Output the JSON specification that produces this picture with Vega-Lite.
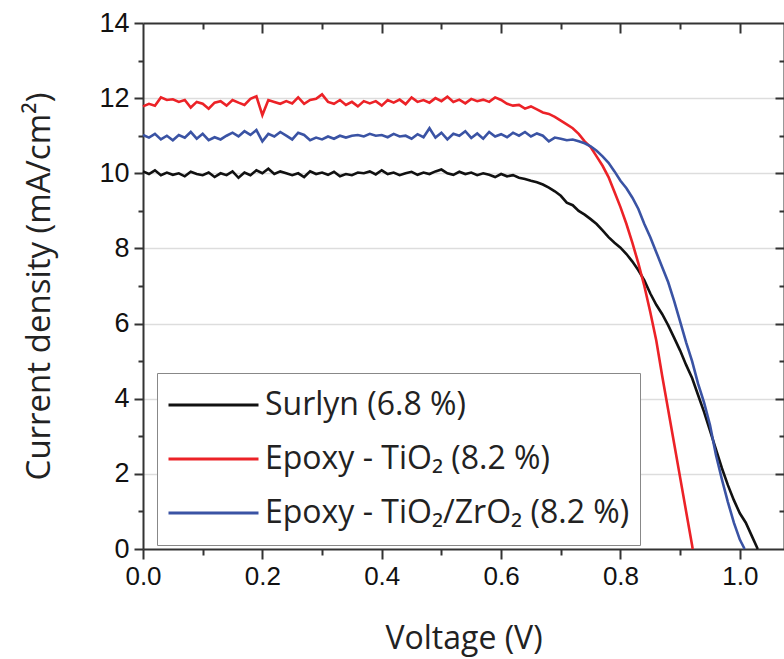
{
  "$schema": "https://vega.github.io/schema/vega-lite/v6.json",
  "autosize": {"type": "none"},
  "padding": {"left": 143, "top": 23, "right": 0, "bottom": 110},
  "width": 641,
  "height": 526,
  "background": "white",
  "config": {"view": {"stroke": null}},
  "datasets": {
    "iv": [
      {"v":0.00,"j":10.05,"s":"S"},{"v":0.01,"j":9.98,"s":"S"},{"v":0.02,"j":10.08,"s":"S"},{"v":0.03,"j":9.95,"s":"S"},{"v":0.04,"j":10.02,"s":"S"},{"v":0.05,"j":9.96,"s":"S"},{"v":0.06,"j":10.00,"s":"S"},{"v":0.07,"j":9.92,"s":"S"},{"v":0.08,"j":10.04,"s":"S"},{"v":0.09,"j":9.98,"s":"S"},
      {"v":0.10,"j":9.95,"s":"S"},{"v":0.11,"j":10.02,"s":"S"},{"v":0.12,"j":9.90,"s":"S"},{"v":0.13,"j":10.00,"s":"S"},{"v":0.14,"j":9.95,"s":"S"},{"v":0.15,"j":10.05,"s":"S"},{"v":0.16,"j":9.88,"s":"S"},{"v":0.17,"j":10.02,"s":"S"},{"v":0.18,"j":9.95,"s":"S"},{"v":0.19,"j":10.08,"s":"S"},
      {"v":0.20,"j":10.00,"s":"S"},{"v":0.21,"j":10.12,"s":"S"},{"v":0.22,"j":9.98,"s":"S"},{"v":0.23,"j":10.05,"s":"S"},{"v":0.24,"j":10.00,"s":"S"},{"v":0.25,"j":9.95,"s":"S"},{"v":0.26,"j":10.00,"s":"S"},{"v":0.27,"j":9.90,"s":"S"},{"v":0.28,"j":10.05,"s":"S"},{"v":0.29,"j":9.98,"s":"S"},
      {"v":0.30,"j":10.02,"s":"S"},{"v":0.31,"j":9.96,"s":"S"},{"v":0.32,"j":10.04,"s":"S"},{"v":0.33,"j":9.92,"s":"S"},{"v":0.34,"j":9.98,"s":"S"},{"v":0.35,"j":9.95,"s":"S"},{"v":0.36,"j":10.02,"s":"S"},{"v":0.37,"j":10.00,"s":"S"},{"v":0.38,"j":10.05,"s":"S"},{"v":0.39,"j":9.97,"s":"S"},
      {"v":0.40,"j":10.08,"s":"S"},{"v":0.41,"j":9.98,"s":"S"},{"v":0.42,"j":10.02,"s":"S"},{"v":0.43,"j":9.95,"s":"S"},{"v":0.44,"j":10.00,"s":"S"},{"v":0.45,"j":10.04,"s":"S"},{"v":0.46,"j":9.96,"s":"S"},{"v":0.47,"j":10.02,"s":"S"},{"v":0.48,"j":9.98,"s":"S"},{"v":0.49,"j":10.05,"s":"S"},
      {"v":0.50,"j":10.10,"s":"S"},{"v":0.51,"j":10.00,"s":"S"},{"v":0.52,"j":9.96,"s":"S"},{"v":0.53,"j":10.04,"s":"S"},{"v":0.54,"j":9.98,"s":"S"},{"v":0.55,"j":10.02,"s":"S"},{"v":0.56,"j":9.95,"s":"S"},{"v":0.57,"j":10.00,"s":"S"},{"v":0.58,"j":9.96,"s":"S"},{"v":0.59,"j":9.90,"s":"S"},
      {"v":0.60,"j":9.98,"s":"S"},{"v":0.61,"j":9.92,"s":"S"},{"v":0.62,"j":9.95,"s":"S"},{"v":0.63,"j":9.88,"s":"S"},{"v":0.64,"j":9.85,"s":"S"},{"v":0.65,"j":9.80,"s":"S"},{"v":0.66,"j":9.76,"s":"S"},{"v":0.67,"j":9.70,"s":"S"},{"v":0.68,"j":9.62,"s":"S"},{"v":0.69,"j":9.52,"s":"S"},
      {"v":0.70,"j":9.40,"s":"S"},{"v":0.71,"j":9.22,"s":"S"},{"v":0.72,"j":9.15,"s":"S"},{"v":0.73,"j":9.00,"s":"S"},{"v":0.74,"j":8.90,"s":"S"},{"v":0.75,"j":8.78,"s":"S"},{"v":0.76,"j":8.65,"s":"S"},{"v":0.77,"j":8.48,"s":"S"},{"v":0.78,"j":8.30,"s":"S"},{"v":0.79,"j":8.15,"s":"S"},
      {"v":0.80,"j":8.02,"s":"S"},{"v":0.81,"j":7.85,"s":"S"},{"v":0.82,"j":7.65,"s":"S"},{"v":0.83,"j":7.42,"s":"S"},{"v":0.84,"j":7.15,"s":"S"},{"v":0.85,"j":6.80,"s":"S"},{"v":0.86,"j":6.50,"s":"S"},{"v":0.87,"j":6.25,"s":"S"},{"v":0.88,"j":5.95,"s":"S"},{"v":0.89,"j":5.62,"s":"S"},
      {"v":0.90,"j":5.28,"s":"S"},{"v":0.91,"j":4.90,"s":"S"},{"v":0.92,"j":4.55,"s":"S"},{"v":0.93,"j":4.10,"s":"S"},{"v":0.94,"j":3.65,"s":"S"},{"v":0.95,"j":3.15,"s":"S"},{"v":0.96,"j":2.65,"s":"S"},{"v":0.97,"j":2.15,"s":"S"},{"v":0.98,"j":1.70,"s":"S"},{"v":0.99,"j":1.30,"s":"S"},
      {"v":1.00,"j":0.95,"s":"S"},{"v":1.01,"j":0.70,"s":"S"},{"v":1.02,"j":0.35,"s":"S"},{"v":1.03,"j":0.00,"s":"S"},

      {"v":0.00,"j":11.78,"s":"T"},{"v":0.01,"j":11.85,"s":"T"},{"v":0.02,"j":11.80,"s":"T"},{"v":0.03,"j":12.02,"s":"T"},{"v":0.04,"j":11.95,"s":"T"},{"v":0.05,"j":11.97,"s":"T"},{"v":0.06,"j":11.90,"s":"T"},{"v":0.07,"j":11.95,"s":"T"},{"v":0.08,"j":11.75,"s":"T"},{"v":0.09,"j":11.90,"s":"T"},
      {"v":0.10,"j":11.85,"s":"T"},{"v":0.11,"j":11.72,"s":"T"},{"v":0.12,"j":11.88,"s":"T"},{"v":0.13,"j":11.92,"s":"T"},{"v":0.14,"j":11.80,"s":"T"},{"v":0.15,"j":11.95,"s":"T"},{"v":0.16,"j":11.88,"s":"T"},{"v":0.17,"j":11.82,"s":"T"},{"v":0.18,"j":11.98,"s":"T"},{"v":0.19,"j":12.05,"s":"T"},
      {"v":0.20,"j":11.55,"s":"T"},{"v":0.21,"j":11.95,"s":"T"},{"v":0.22,"j":11.90,"s":"T"},{"v":0.23,"j":11.85,"s":"T"},{"v":0.24,"j":11.92,"s":"T"},{"v":0.25,"j":11.86,"s":"T"},{"v":0.26,"j":12.02,"s":"T"},{"v":0.27,"j":11.85,"s":"T"},{"v":0.28,"j":11.95,"s":"T"},{"v":0.29,"j":11.98,"s":"T"},
      {"v":0.30,"j":12.10,"s":"T"},{"v":0.31,"j":11.90,"s":"T"},{"v":0.32,"j":11.85,"s":"T"},{"v":0.33,"j":11.95,"s":"T"},{"v":0.34,"j":11.82,"s":"T"},{"v":0.35,"j":11.90,"s":"T"},{"v":0.36,"j":11.78,"s":"T"},{"v":0.37,"j":11.92,"s":"T"},{"v":0.38,"j":11.86,"s":"T"},{"v":0.39,"j":11.92,"s":"T"},
      {"v":0.40,"j":11.80,"s":"T"},{"v":0.41,"j":11.95,"s":"T"},{"v":0.42,"j":11.88,"s":"T"},{"v":0.43,"j":11.96,"s":"T"},{"v":0.44,"j":11.84,"s":"T"},{"v":0.45,"j":12.02,"s":"T"},{"v":0.46,"j":11.90,"s":"T"},{"v":0.47,"j":11.95,"s":"T"},{"v":0.48,"j":11.88,"s":"T"},{"v":0.49,"j":12.00,"s":"T"},
      {"v":0.50,"j":11.92,"s":"T"},{"v":0.51,"j":12.04,"s":"T"},{"v":0.52,"j":11.90,"s":"T"},{"v":0.53,"j":11.96,"s":"T"},{"v":0.54,"j":11.86,"s":"T"},{"v":0.55,"j":11.98,"s":"T"},{"v":0.56,"j":11.92,"s":"T"},{"v":0.57,"j":11.96,"s":"T"},{"v":0.58,"j":11.90,"s":"T"},{"v":0.59,"j":12.02,"s":"T"},
      {"v":0.60,"j":11.95,"s":"T"},{"v":0.61,"j":11.85,"s":"T"},{"v":0.62,"j":11.80,"s":"T"},{"v":0.63,"j":11.82,"s":"T"},{"v":0.64,"j":11.72,"s":"T"},{"v":0.65,"j":11.78,"s":"T"},{"v":0.66,"j":11.70,"s":"T"},{"v":0.67,"j":11.62,"s":"T"},{"v":0.68,"j":11.58,"s":"T"},{"v":0.69,"j":11.50,"s":"T"},
      {"v":0.70,"j":11.40,"s":"T"},{"v":0.71,"j":11.30,"s":"T"},{"v":0.72,"j":11.20,"s":"T"},{"v":0.73,"j":11.05,"s":"T"},{"v":0.74,"j":10.85,"s":"T"},{"v":0.75,"j":10.70,"s":"T"},{"v":0.76,"j":10.45,"s":"T"},{"v":0.77,"j":10.20,"s":"T"},{"v":0.78,"j":9.90,"s":"T"},{"v":0.79,"j":9.50,"s":"T"},
      {"v":0.80,"j":9.10,"s":"T"},{"v":0.81,"j":8.65,"s":"T"},{"v":0.82,"j":8.15,"s":"T"},{"v":0.83,"j":7.60,"s":"T"},{"v":0.84,"j":7.00,"s":"T"},{"v":0.85,"j":6.30,"s":"T"},{"v":0.86,"j":5.55,"s":"T"},{"v":0.87,"j":4.60,"s":"T"},{"v":0.88,"j":3.70,"s":"T"},{"v":0.89,"j":2.80,"s":"T"},
      {"v":0.90,"j":1.90,"s":"T"},{"v":0.91,"j":1.00,"s":"T"},{"v":0.92,"j":0.10,"s":"T"},{"v":0.921,"j":0.00,"s":"T"},

      {"v":0.00,"j":11.02,"s":"Z"},{"v":0.01,"j":10.95,"s":"Z"},{"v":0.02,"j":11.05,"s":"Z"},{"v":0.03,"j":10.90,"s":"Z"},{"v":0.04,"j":11.00,"s":"Z"},{"v":0.05,"j":10.88,"s":"Z"},{"v":0.06,"j":11.02,"s":"Z"},{"v":0.07,"j":10.95,"s":"Z"},{"v":0.08,"j":11.10,"s":"Z"},{"v":0.09,"j":10.92,"s":"Z"},
      {"v":0.10,"j":11.05,"s":"Z"},{"v":0.11,"j":10.88,"s":"Z"},{"v":0.12,"j":10.96,"s":"Z"},{"v":0.13,"j":10.90,"s":"Z"},{"v":0.14,"j":11.00,"s":"Z"},{"v":0.15,"j":11.08,"s":"Z"},{"v":0.16,"j":10.98,"s":"Z"},{"v":0.17,"j":11.12,"s":"Z"},{"v":0.18,"j":11.02,"s":"Z"},{"v":0.19,"j":11.15,"s":"Z"},
      {"v":0.20,"j":10.85,"s":"Z"},{"v":0.21,"j":11.05,"s":"Z"},{"v":0.22,"j":10.98,"s":"Z"},{"v":0.23,"j":11.10,"s":"Z"},{"v":0.24,"j":11.00,"s":"Z"},{"v":0.25,"j":10.90,"s":"Z"},{"v":0.26,"j":11.08,"s":"Z"},{"v":0.27,"j":11.02,"s":"Z"},{"v":0.28,"j":10.88,"s":"Z"},{"v":0.29,"j":10.95,"s":"Z"},
      {"v":0.30,"j":10.90,"s":"Z"},{"v":0.31,"j":10.98,"s":"Z"},{"v":0.32,"j":10.92,"s":"Z"},{"v":0.33,"j":11.00,"s":"Z"},{"v":0.34,"j":10.95,"s":"Z"},{"v":0.35,"j":11.00,"s":"Z"},{"v":0.36,"j":11.02,"s":"Z"},{"v":0.37,"j":10.98,"s":"Z"},{"v":0.38,"j":11.05,"s":"Z"},{"v":0.39,"j":11.00,"s":"Z"},
      {"v":0.40,"j":11.02,"s":"Z"},{"v":0.41,"j":10.96,"s":"Z"},{"v":0.42,"j":11.05,"s":"Z"},{"v":0.43,"j":10.98,"s":"Z"},{"v":0.44,"j":11.00,"s":"Z"},{"v":0.45,"j":10.92,"s":"Z"},{"v":0.46,"j":11.04,"s":"Z"},{"v":0.47,"j":10.96,"s":"Z"},{"v":0.48,"j":11.20,"s":"Z"},{"v":0.49,"j":10.95,"s":"Z"},
      {"v":0.50,"j":11.08,"s":"Z"},{"v":0.51,"j":10.90,"s":"Z"},{"v":0.52,"j":11.05,"s":"Z"},{"v":0.53,"j":11.00,"s":"Z"},{"v":0.54,"j":11.12,"s":"Z"},{"v":0.55,"j":10.94,"s":"Z"},{"v":0.56,"j":11.06,"s":"Z"},{"v":0.57,"j":10.92,"s":"Z"},{"v":0.58,"j":11.10,"s":"Z"},{"v":0.59,"j":10.98,"s":"Z"},
      {"v":0.60,"j":11.04,"s":"Z"},{"v":0.61,"j":10.96,"s":"Z"},{"v":0.62,"j":11.08,"s":"Z"},{"v":0.63,"j":11.00,"s":"Z"},{"v":0.64,"j":11.10,"s":"Z"},{"v":0.65,"j":10.98,"s":"Z"},{"v":0.66,"j":11.06,"s":"Z"},{"v":0.67,"j":11.00,"s":"Z"},{"v":0.68,"j":10.85,"s":"Z"},{"v":0.69,"j":10.95,"s":"Z"},
      {"v":0.70,"j":10.92,"s":"Z"},{"v":0.71,"j":10.88,"s":"Z"},{"v":0.72,"j":10.90,"s":"Z"},{"v":0.73,"j":10.85,"s":"Z"},{"v":0.74,"j":10.80,"s":"Z"},{"v":0.75,"j":10.72,"s":"Z"},{"v":0.76,"j":10.60,"s":"Z"},{"v":0.77,"j":10.45,"s":"Z"},{"v":0.78,"j":10.28,"s":"Z"},{"v":0.79,"j":10.05,"s":"Z"},
      {"v":0.80,"j":9.80,"s":"Z"},{"v":0.81,"j":9.60,"s":"Z"},{"v":0.82,"j":9.35,"s":"Z"},{"v":0.83,"j":9.05,"s":"Z"},{"v":0.84,"j":8.65,"s":"Z"},{"v":0.85,"j":8.30,"s":"Z"},{"v":0.86,"j":7.90,"s":"Z"},{"v":0.87,"j":7.50,"s":"Z"},{"v":0.88,"j":7.10,"s":"Z"},{"v":0.89,"j":6.60,"s":"Z"},
      {"v":0.90,"j":6.05,"s":"Z"},{"v":0.91,"j":5.50,"s":"Z"},{"v":0.92,"j":5.00,"s":"Z"},{"v":0.93,"j":4.40,"s":"Z"},{"v":0.94,"j":3.90,"s":"Z"},{"v":0.95,"j":3.30,"s":"Z"},{"v":0.96,"j":2.50,"s":"Z"},{"v":0.97,"j":1.85,"s":"Z"},{"v":0.98,"j":1.25,"s":"Z"},{"v":0.99,"j":0.70,"s":"Z"},
      {"v":1.00,"j":0.25,"s":"Z"},{"v":1.008,"j":0.00,"s":"Z"}
    ]
  },
  "data": {"name": "iv"},
  "resolve": {"scale": {"x": "independent", "y": "independent"}},
  "layer": [
    {
      "mark": {"type": "line", "strokeWidth": 2.6, "interpolate": "linear"},
      "encoding": {
        "x": {
          "field": "v", "type": "quantitative",
          "scale": {"domain": [0, 1.074], "nice": false, "zero": false},
          "axis": {
            "orient": "bottom",
            "title": "Voltage (V)",
            "values": [0, 0.1, 0.2, 0.3, 0.4, 0.5, 0.6, 0.7, 0.8, 0.9, 1.0],
            "labelExpr": "round(datum.value*10) % 2 == 0 ? format(datum.value, '.1f') : ''",
            "tickSize": {"condition": {"test": "round(datum.value*10) % 2 == 0", "value": 10}, "value": 6},
            "tickWidth": 2, "tickColor": "#333",
            "domainColor": "#333", "domainWidth": 2,
            "labelFont": "Liberation Sans", "labelFontSize": 26, "labelColor": "#111", "labelPadding": 4,
            "labelFlush": false, "labelOverlap": false,
            "titleFont": "Open Sans", "titleFontSize": 32, "titleFontWeight": "normal", "titleColor": "#222", "titlePadding": 34,
            "grid": false
          }
        },
        "y": {
          "field": "j", "type": "quantitative",
          "scale": {"domain": [0, 14], "nice": false},
          "axis": {
            "orient": "left",
            "title": "Current density (mA/cm²)",
            "values": [0, 1, 2, 3, 4, 5, 6, 7, 8, 9, 10, 11, 12, 13, 14],
            "labelExpr": "datum.value % 2 == 0 ? format(datum.value, 'd') : ''",
            "tickSize": {"condition": {"test": "datum.value % 2 == 0", "value": 9}, "value": 5},
            "tickWidth": 2, "tickColor": "#333",
            "domainColor": "#333", "domainWidth": 2,
            "labelFont": "Liberation Sans", "labelFontSize": 27, "labelColor": "#111", "labelPadding": 5,
            "labelFlush": false, "labelOverlap": false,
            "titleFont": "Open Sans", "titleFontSize": 33, "titleFontWeight": "normal", "titleColor": "#222", "titlePadding": 42,
            "grid": true, "gridColor": "#dddddd", "gridWidth": 1.5,
            "gridOpacity": {"condition": {"test": "datum.value % 2 == 0 && datum.value > 0 && datum.value < 14", "value": 1}, "value": 0}
          }
        },
        "color": {
          "field": "s", "type": "nominal",
          "scale": {"domain": ["S", "T", "Z"], "range": ["#111111", "#ec2227", "#3a53a4"]},
          "legend": {
            "title": null,
            "orient": "none",
            "legendX": 14,
            "legendY": 350,
            "symbolType": "stroke",
            "symbolSize": 8100,
            "symbolStrokeWidth": 3,
            "clipHeight": 44,
            "labelFont": "Open Sans",
            "labelFontSize": 32,
            "labelColor": "#222",
            "labelOffset": 5,
            "labelLimit": 600,
            "rowPadding": 10,
            "padding": 10,
            "strokeColor": "#888888",
            "fillColor": "white",
            "labelExpr": "datum.label == 'S' ? 'Surlyn (6.8 %)' : datum.label == 'T' ? 'Epoxy - TiO₂ (8.2 %)' : 'Epoxy - TiO₂/ZrO₂ (8.2 %)'"
          }
        }
      }
    },
    {
      "mark": {"type": "line", "strokeOpacity": 0},
      "encoding": {
        "x": {
          "field": "v", "type": "quantitative",
          "scale": {"domain": [0, 1.074], "nice": false, "zero": false},
          "axis": {
            "orient": "top", "title": null, "labels": false, "grid": false,
            "values": [0.1, 0.2, 0.3, 0.4, 0.5, 0.6, 0.7, 0.8, 0.9, 1.0],
            "tickSize": {"condition": {"test": "round(datum.value*10) % 2 == 0", "value": -10}, "value": -6},
            "tickWidth": 2, "tickColor": "#333",
            "domainColor": "#333", "domainWidth": 2
          }
        },
        "y": {
          "field": "j", "type": "quantitative",
          "scale": {"domain": [0, 14], "nice": false},
          "axis": {
            "orient": "right", "title": null, "labels": false, "grid": false,
            "values": [1, 2, 3, 4, 5, 6, 7, 8, 9, 10, 11, 12, 13],
            "tickSize": {"condition": {"test": "datum.value % 2 == 0", "value": -9}, "value": -5},
            "tickWidth": 2, "tickColor": "#333",
            "domainColor": "#333", "domainWidth": 2
          }
        }
      }
    }
  ]
}
